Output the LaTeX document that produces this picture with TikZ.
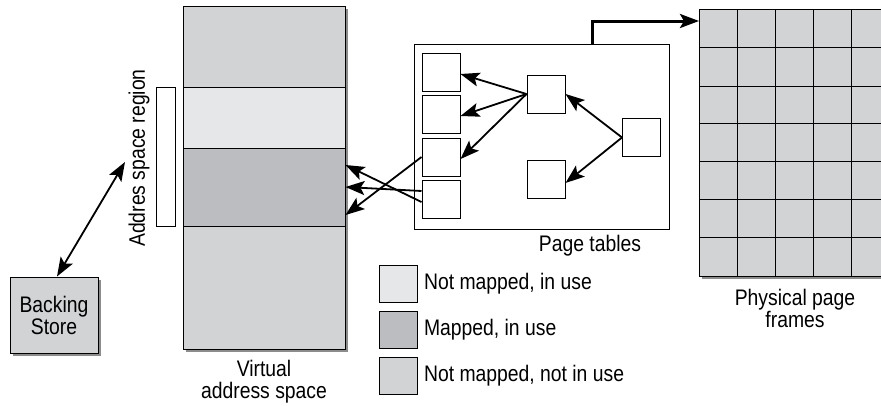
\documentclass[tikz,border=0pt]{standalone}
\usepackage{fontspec}
\setmainfont[FakeStretch=0.86]{Liberation Sans}
\usepackage{tikz}
\usetikzlibrary{arrows.meta,calc,positioning}
\definecolor{RegionGray}{HTML}{D2D3D5}
\definecolor{UsedGray}{HTML}{E6E7E8}
\definecolor{MappedGray}{HTML}{BCBDC0}
\definecolor{ShadowGray}{HTML}{8C8C8C}

\begin{document}
\begin{tikzpicture}[x=1pt, y=-1pt,
    region/.style={draw, line width=1pt, minimum width=162pt, inner sep=0pt},
    ptbox/.style={draw, line width=1pt, fill=white, minimum width=38pt, minimum height=38pt, inner sep=0pt},
    legbox/.style={draw, line width=1pt, minimum width=38pt, minimum height=37pt, inner sep=0pt},
    lbl/.style={font=\fontsize{22.5}{25}\selectfont, align=center},
    conn/.style={-{Stealth[length=19pt, width=14pt, inset=4pt]}, line width=1.8pt},
    biconn/.style={{Stealth[length=19pt, width=14pt, inset=4pt]}-{Stealth[length=19pt, width=14pt, inset=4pt]}, line width=1.8pt}]
    \useasboundingbox (0,0) rectangle (881,405);

    % Virtual address space (with its shadow)
    \fill[ShadowGray] (186,9) rectangle (348,352);
    \node[region, fill=RegionGray, minimum height=81pt] (vtop) at (264,46.5) {};
    \node[region, fill=UsedGray, minimum height=61pt] (vused) at (264,117.5) {};
    \node[region, fill=MappedGray, minimum height=78pt] (vmapped) at (264,187) {};
    \node[region, fill=RegionGray, minimum height=123pt] (vbottom) at (264,287.5) {};
    \node[lbl] (vlabel) at (264,382) {Virtual\\[-3pt]address space};

    % Address space region
    \node[draw, line width=1pt, fill=white, minimum width=19pt, minimum height=139pt, inner sep=0pt] (asr) at (165.5,156.5) {};
    \node[lbl, rotate=90] (asrlabel) at (139,158) {Addres space region};

    % Backing store
    \fill[ShadowGray] (13,280) rectangle (101,356);
    \node[draw, line width=1pt, fill=RegionGray, minimum width=88pt, minimum height=76pt, inner sep=0pt, lbl] (store) at (54,315) {Backing\\[-3pt]Store};
    \coordinate (storeend) at (125,162);
    \draw[biconn] ([xshift=3pt]store.north) -- (storeend);

    % Page tables
    \node[draw, line width=1pt, minimum width=255pt, minimum height=185pt, inner sep=0pt] (ptable) at (541.5,136.5) {};
    \node[lbl] (ptlabel) at (590,246) {Page tables};
    \node[ptbox] (pt1) at (441,72) {};
    \node[ptbox] (pt2) at (441,114) {};
    \node[ptbox] (pt3) at (441,157) {};
    \node[ptbox] (pt4) at (441,199) {};
    \node[ptbox] (ptmid) at (546,94) {};
    \node[ptbox] (ptlow) at (546,179) {};
    \node[ptbox] (ptroot) at (641.5,137.5) {};

    % Table links
    \draw[conn] (ptroot.west) -- (ptmid.east);
    \draw[conn] (ptroot.west) -- ([yshift=-4pt]ptlow.east);
    \foreach \t in {pt1,pt2,pt3}
        \draw[conn] (ptmid.west) -- ([yshift=-2pt]\t.east);

    % Links into the mapped region
    \draw[conn] ([yshift=-3pt]pt4.west) -- ([yshift=22pt]vmapped.east);
    \draw[conn] ([yshift=8pt]pt4.west) -- (vmapped.east);
    \draw[conn] (pt3.west) -- ([yshift=-28pt]vmapped.east);

    % Physical page frames
    \begin{scope}
        \clip (0,0) rectangle (881,405);
        \fill[ShadowGray] (702,12) rectangle (892,279);
        \fill[RegionGray] (699,9) rectangle (889,276);
        \foreach \x in {737,775,813,851}
            \draw[line width=1pt] (\x,9) -- (\x,276);
        \foreach \y in {47,86,123,161,199,237}
            \draw[line width=1pt] (699,\y) -- (889,\y);
        \draw[line width=1pt] (889,9) -- (699,9) -- (699,276) -- (889,276);
    \end{scope}
    \coordinate (frames) at (699,21);
    \node[lbl] (frameslabel) at (795,308) {Physical page\\[-3pt]frames};
    \draw[conn, line width=3pt] ([xshift=50.5pt]ptable.north) |- (frames);

    % Legend
    \node[legbox, fill=UsedGray] (leg1) at (398,283.5) {};
    \node[legbox, fill=MappedGray] (leg2) at (398,329.5) {};
    \node[legbox, fill=RegionGray] (leg3) at (398,376) {};
    \node[lbl, right=3pt of leg1] (leg1label) {Not mapped, in use};
    \node[lbl, right=3pt of leg2] (leg2label) {Mapped, in use};
    \node[lbl, right=3pt of leg3] (leg3label) {Not mapped, not in use};

\end{tikzpicture}
\end{document}
